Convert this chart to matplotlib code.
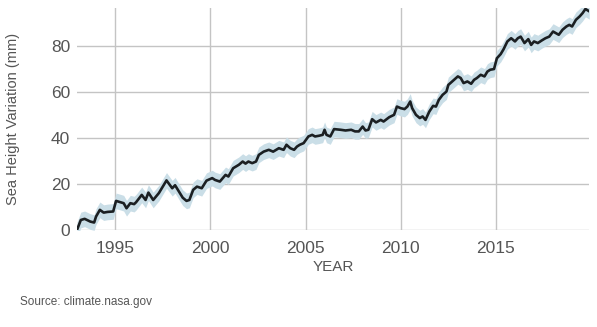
import matplotlib
matplotlib.use("Agg")
import matplotlib.pyplot as plt

plt.rcParams['font.family'] = ['Liberation Sans', 'DejaVu Sans']

# satellite sea level record (mm, relative to 1993)
years = [
    1993.0, 1993.2, 1993.4, 1993.7, 1993.9, 1994.0, 1994.2, 1994.4, 1994.6, 1994.9,
    1995.05, 1995.3, 1995.45, 1995.6, 1995.8, 1996.0, 1996.1, 1996.4, 1996.6, 1996.75,
    1997.0, 1997.3, 1997.7, 1998.0, 1998.15, 1998.4, 1998.55, 1998.75, 1998.9, 1999.1,
    1999.3, 1999.55, 1999.8, 2000.1, 2000.25, 2000.5, 2000.8, 2000.95, 2001.2, 2001.5,
    2001.7, 2001.85, 2002.0, 2002.2, 2002.4, 2002.55, 2002.8, 2003.07, 2003.3, 2003.6,
    2003.85, 2004.0, 2004.2, 2004.4, 2004.55, 2004.7, 2004.9, 2005.15, 2005.35, 2005.5,
    2005.7, 2005.9, 2006.0, 2006.1, 2006.3, 2006.5, 2006.85, 2007.1, 2007.4, 2007.6,
    2007.8, 2008.0, 2008.15, 2008.3, 2008.5, 2008.7, 2008.95, 2009.1, 2009.4, 2009.65,
    2009.8, 2010.0, 2010.2, 2010.35, 2010.5, 2010.6, 2010.8, 2011.0, 2011.15, 2011.3,
    2011.5, 2011.7, 2011.85, 2012.0, 2012.2, 2012.4, 2012.5, 2012.7, 2013.0, 2013.15,
    2013.3, 2013.5, 2013.7, 2013.85, 2014.0, 2014.2, 2014.4, 2014.55, 2014.7, 2014.9,
    2015.05, 2015.25, 2015.4, 2015.6, 2015.8, 2016.0, 2016.15, 2016.3, 2016.5, 2016.7,
    2016.85, 2017.0, 2017.2, 2017.4, 2017.6, 2017.8, 2018.0, 2018.15, 2018.3, 2018.5,
    2018.7, 2018.85, 2019.0, 2019.2, 2019.4, 2019.55, 2019.7, 2019.9,
]
height_mm = [
    0.0, 4.3, 4.8, 3.6, 3.2, 5.8, 8.7, 7.5, 7.8, 8.0,
    12.6, 12.0, 11.6, 9.4, 11.6, 11.2, 12.0, 15.2, 13.0, 16.2,
    13.0, 16.0, 21.5, 18.1, 19.4, 16.0, 14.0, 12.6, 13.0, 17.4,
    18.8, 18.1, 21.4, 22.5, 21.7, 21.0, 23.9, 23.2, 26.8, 28.3,
    29.7, 28.8, 29.7, 29.0, 29.7, 32.6, 34.0, 34.8, 34.0, 35.5,
    34.8, 37.0, 35.5, 34.8, 36.2, 37.0, 37.7, 40.6, 41.3, 40.6,
    40.9, 41.3, 43.5, 41.3, 40.6, 43.8, 43.5, 43.2, 43.5, 42.8,
    42.8, 44.9, 43.2, 43.5, 48.1, 46.7, 47.8, 47.1, 49.0, 50.0,
    53.6, 52.9, 52.5, 53.6, 55.8, 52.9, 50.0, 48.6, 49.3, 47.8,
    51.4, 53.9, 53.6, 56.5, 58.7, 60.1, 63.0, 64.5, 66.7, 66.0,
    63.8, 64.5, 63.5, 65.2, 66.0, 67.4, 66.7, 68.8, 69.6, 69.9,
    74.6, 76.4, 78.5, 81.9, 83.3, 81.9, 83.3, 84.0, 81.2, 82.9,
    80.4, 81.9, 81.2, 82.3, 83.3, 84.0, 86.2, 85.5, 84.8, 87.0,
    88.4, 89.1, 88.4, 91.3, 92.8, 94.2, 96.0, 95.0,
]
uncertainty_mm = 3.4

year_ticks = [1995, 2000, 2005, 2010, 2015]
height_ticks = [0, 20, 40, 60, 80]

fig = plt.figure(figsize=(5.97, 3.27), dpi=100)
ax = fig.add_axes([0.129, 0.297, 0.858, 0.679])

lower = [h - uncertainty_mm for h in height_mm]
upper = [h + uncertainty_mm for h in height_mm]
ax.fill_between(years, lower, upper, color='#cadee7', lw=0, zorder=2)
ax.plot(years, height_mm, color='#1b1f22', lw=1.9, zorder=3,
        solid_joinstyle='round')

ax.set_xlim(1993, 2019.9)
ax.set_ylim(0, 96.5)
ax.set_xticks(year_ticks)
ax.set_yticks(height_ticks)
ax.grid(True, color='#c4c4c4', lw=1)
ax.set_axisbelow(True)
for s in ax.spines.values():
    s.set_visible(False)

ax.tick_params(length=0, labelsize=12.5, labelcolor='#555555')
ax.tick_params(axis='x', pad=8)
ax.tick_params(axis='y', pad=5)

ax.set_xlabel('YEAR', fontsize=11, color='#555555', labelpad=3)
ax.set_ylabel('Sea Height Variation (mm)', fontsize=10.5, color='#555555', labelpad=22)

fig.text(0.034, 0.077, 'Source: climate.nasa.gov', fontsize=8.5,
         color='#555555', va='center', ha='left')

fig.savefig('out.png', dpi=100)
